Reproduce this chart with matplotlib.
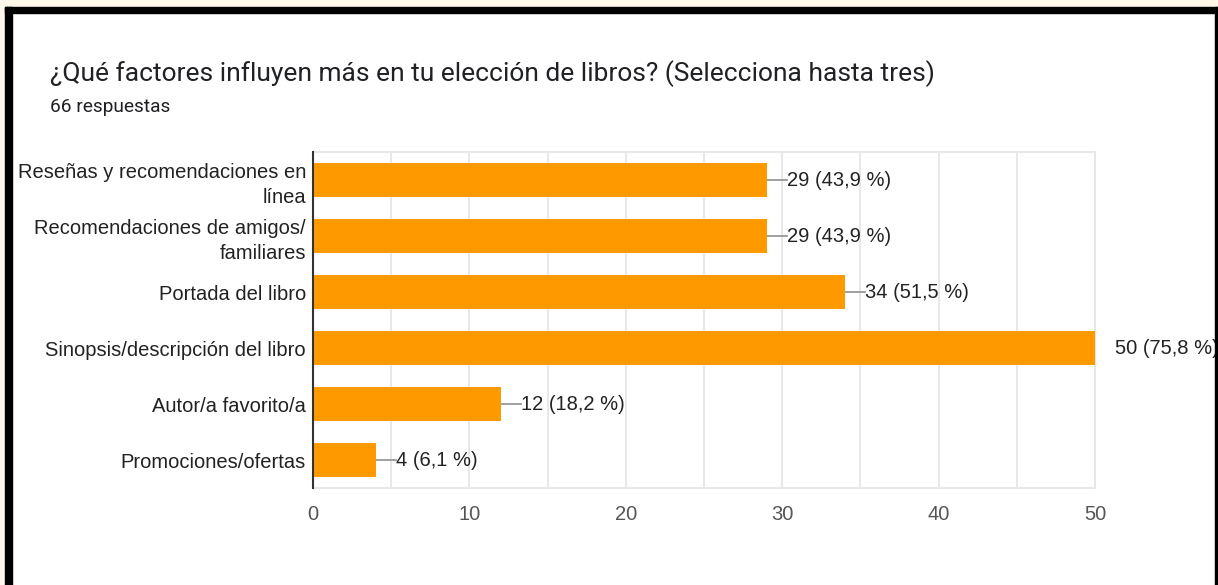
import matplotlib.pyplot as plt
from matplotlib.patches import Rectangle

categories = [
    "Reseñas y recomendaciones en\nlínea",
    "Recomendaciones de amigos/\nfamiliares",
    "Portada del libro",
    "Sinopsis/descripción del libro",
    "Autor/a favorito/a",
    "Promociones/ofertas",
]
counts = [29, 29, 34, 50, 12, 4]
percents = ["43,9", "43,9", "51,5", "75,8", "18,2", "6,1"]
x_ticks = [0, 10, 20, 30, 40, 50]

fig = plt.figure(figsize=(12.18, 5.85), dpi=100)
fig.patch.set_facecolor("white")

# frame around the screenshot
fig.patches.append(Rectangle((0, 0.988), 1, 0.012, transform=fig.transFigure,
                             color="#fff8ea", zorder=0))
fig.patches.append(Rectangle((0, 0), 0.004, 1, transform=fig.transFigure,
                             color="#fff8ea", zorder=0))
fig.patches.append(Rectangle((0.004, 0.977), 0.996, 0.011, transform=fig.transFigure,
                             color="black", zorder=1))
fig.patches.append(Rectangle((0.004, 0), 0.0055, 0.988, transform=fig.transFigure,
                             color="black", zorder=1))
fig.patches.append(Rectangle((0.9975, 0), 0.0025, 0.988, transform=fig.transFigure,
                             color="black", zorder=1))

ax = fig.add_axes([0.257, 0.1658, 0.642, 0.574])
y = list(range(len(categories)))
ax.barh(y, counts, height=0.61, color="#ff9900", zorder=3)
ax.set_ylim(len(categories) - 0.5, -0.5)
ax.set_xlim(0, 50)

ax.set_yticks(y)
ax.set_yticklabels(categories, fontsize=14.5, color="#222222",
                   family="Liberation Sans", linespacing=1.42)
ax.set_xticks(x_ticks)
ax.set_xticklabels([str(v) for v in x_ticks], fontsize=14.5, color="#555555",
                   family="Liberation Sans")
ax.set_xticks(range(0, 51, 5), minor=True)
ax.tick_params(axis="both", which="both", length=0)
ax.tick_params(axis="x", pad=12)
ax.tick_params(axis="y", pad=5)
ax.grid(axis="x", which="both", color="#e6e6e6", linewidth=1.3, zorder=0)

for side in ["top", "right", "bottom"]:
    ax.spines[side].set_color("#e6e6e6")
    ax.spines[side].set_linewidth(1.3)
ax.spines["left"].set_color("#333333")
ax.spines["left"].set_linewidth(1.5)
ax.spines["left"].set_zorder(4)

lead = 1.28
for i, (c, p) in enumerate(zip(counts, percents)):
    ax.plot([c, c + lead], [i, i], color="#999999", linewidth=1.3, zorder=2,
            clip_on=True)
    ax.text(c + lead, i, f"{c} ({p} %)", va="center", ha="left", fontsize=14.5,
            color="#222222", family="Liberation Sans", clip_on=False)

fig.text(0.041, 0.875, "¿Qué factores influyen más en tu elección de libros? (Selecciona hasta tres)",
         fontsize=19, color="#202124", family="Roboto", va="center")
fig.text(0.041, 0.817, "66 respuestas", fontsize=13.8, color="#202124",
         family="Roboto", va="center")

fig.savefig("out.png", dpi=100)
